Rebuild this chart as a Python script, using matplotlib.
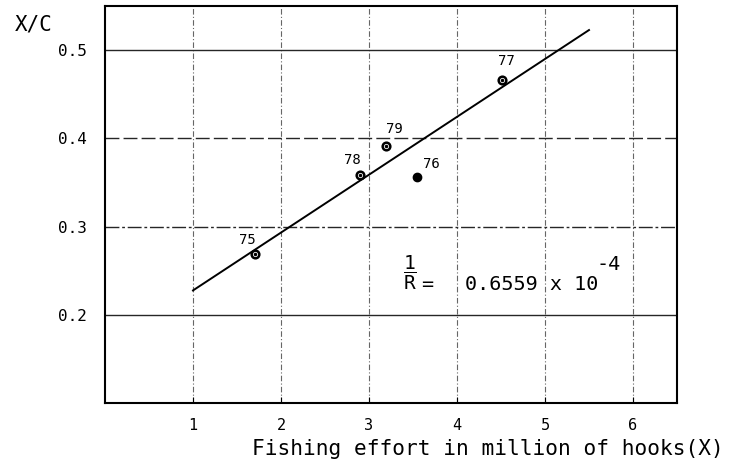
import matplotlib.pyplot as plt

plt.rcParams['font.family'] = 'DejaVu Sans Mono'
plt.rcParams['mathtext.fontset'] = 'custom'
plt.rcParams['mathtext.rm'] = 'DejaVu Sans Mono'
plt.rcParams['mathtext.it'] = 'DejaVu Sans Mono'

# fishing effort (million hooks) vs X/C, by year
years = ['75', '78', '79', '76', '77']
effort = [1.70, 2.90, 3.19, 3.55, 4.51]
xc = [0.269, 0.359, 0.391, 0.356, 0.466]
filled = [False, False, False, True, False]

# fitted line
slope = 0.6559e-4 * 1e3
intercept = 0.162
line_x = [1.0, 5.5]

xticks = [1, 2, 3, 4, 5, 6]
yticks = [0.2, 0.3, 0.4, 0.5]
ytick_labels = ['0.2', '0.3', '0.4', '0.5']

# label offsets in pixels (dx, dy, ha)
offsets = {'75': (1, 14, 'right'), '78': (1, 15, 'right'), '79': (0, 17, 'left'),
           '76': (6, 13, 'left'), '77': (-4, 19, 'left')}

fig = plt.figure(figsize=(7.31, 4.72), dpi=100)
ax = fig.add_axes([105/731, 1-403/472, (677-105)/731, (403-6)/472])
ax.set_xlim(0, 6.5)
ax.set_ylim(0.1, 0.55)

# grid
for x in xticks:
    ax.axvline(x, color='0.4', lw=0.8, ls=(0, (5, 2, 1, 2)), zorder=1)
hstyles = {0.5: '-', 0.4: (0, (10, 3)), 0.3: (0, (10, 2, 2, 2)), 0.2: '-'}
for y in yticks:
    ax.axhline(y, color='0.15', lw=1.0, ls=hstyles[y], zorder=1)

ax.plot(line_x, [intercept + slope * x for x in line_x], color='black', lw=1.4, zorder=2)

for x, y, yr, f in zip(effort, xc, years, filled):
    if f:
        ax.plot(x, y, 'o', ms=6, mfc='black', mec='black', zorder=3)
    else:
        ax.plot(x, y, 'o', ms=5.5, mfc='white', mec='black', mew=1.8, zorder=3)
        ax.plot(x, y, 'o', ms=1.5, color='black', zorder=4)
    dx, dy, ha = offsets[yr]
    ax.annotate(yr, (x, y), xytext=(dx, dy), textcoords='offset pixels',
                fontsize=10, ha=ha, va='center')

# 1/R annotation
ax.text(3.47, 0.2477, r'$\dfrac{1}{R}$', fontsize=14, ha='center', va='center')
ax.text(3.59, 0.2341, '=', fontsize=14.5, va='center')
ax.text(4.09, 0.2341, '0.6559 x 10', fontsize=14.5, va='center')
ax.text(5.59, 0.2575, '-4', fontsize=14.5, va='center')

ax.set_xticks(xticks)
ax.set_yticks(yticks)
ax.set_yticklabels(ytick_labels)
ax.tick_params(axis='x', direction='in', length=4, pad=11, labelsize=11)
ax.tick_params(axis='y', length=0, pad=13, labelsize=11.5)
for s in ax.spines.values():
    s.set_linewidth(1.5)

fig.text(15/731, 1-25/472, 'X/C', fontsize=15, va='center')
fig.text(252/731, 1-449/472, 'Fishing effort in million of hooks(X)', fontsize=15.2, va='center')

fig.savefig('out.png', dpi=100)
